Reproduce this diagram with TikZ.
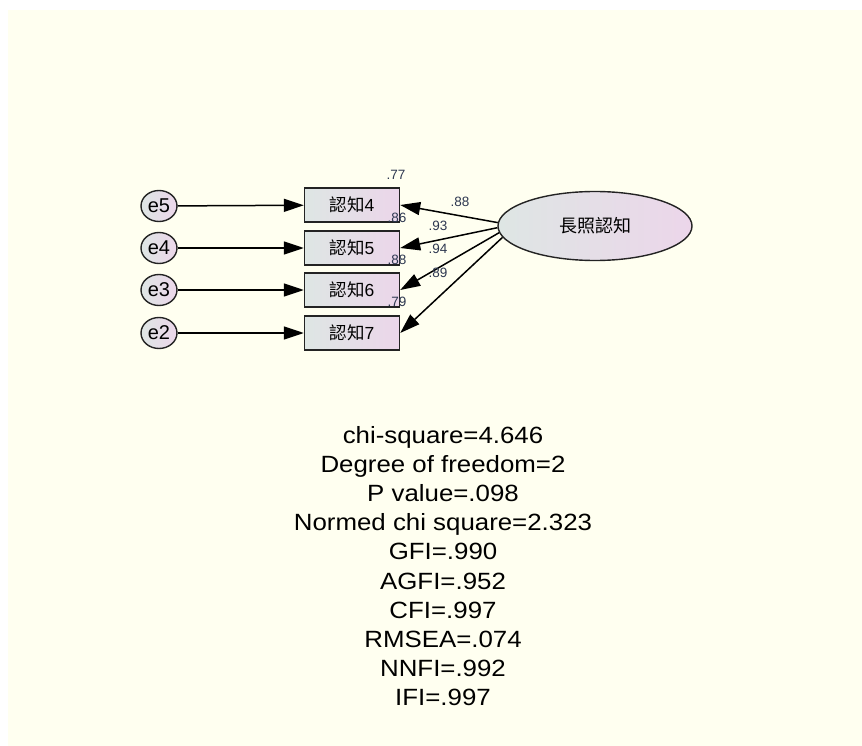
\documentclass[tikz,border=0pt]{standalone}
\usepackage{fontspec}
\setmainfont{Liberation Sans}
\newfontfamily\cjk{Noto Sans CJK TC}
\newfontfamily\statfont[FakeStretch=1.1]{Liberation Sans}
\usepackage{tikz}
\usetikzlibrary{shapes.geometric, arrows.meta}
\definecolor{canvas}{RGB}{255, 255, 240}
\definecolor{tintleft}{RGB}{222, 230, 228}
\definecolor{tintright}{RGB}{236, 214, 234}
\definecolor{edgegray}{RGB}{35, 35, 35}
\definecolor{labelblue}{RGB}{45, 55, 80}

\begin{document}
\begin{tikzpicture}[
    x=1pt, y=-1pt,
    indicator/.style={rectangle, draw=edgegray, line width=1.4pt, left color=tintleft, right color=tintright, minimum width=95pt, minimum height=34pt, inner sep=0pt, font=\fontsize{17.5}{17.5}\selectfont},
    errvar/.style={ellipse, draw=edgegray, line width=1.4pt, left color=tintleft, right color=tintright, minimum width=36pt, minimum height=31pt, inner sep=0pt, font=\fontsize{20}{20}\selectfont},
    latent/.style={ellipse, draw=edgegray, line width=1.4pt, left color=tintleft, right color=tintright, minimum width=194pt, minimum height=69pt, inner sep=0pt, font=\fontsize{18}{18}\selectfont\cjk},
    regress/.style={-{Triangle[length=20pt, width=13pt]}, line width=1.5pt, black},
    coef/.style={font=\fontsize{13.5}{13.5}\selectfont, text=labelblue, inner sep=0pt}
]
% Canvas
\fill[white] (0,0) rectangle (862,746);
\fill[canvas] (8,10) rectangle (862,746);
\useasboundingbox (0,0) rectangle (862,746);

% Error terms
\node[errvar] (e5) at (159,206) {e5};
\node[errvar] (e4) at (159,248) {e4};
\node[errvar] (e3) at (159,290) {e3};
\node[errvar] (e2) at (159,333) {e2};

% Observed items
\node[indicator] (item4) at (352,205) {{\cjk 認知}4};
\node[indicator] (item5) at (352,248) {{\cjk 認知}5};
\node[indicator] (item6) at (352,290) {{\cjk 認知}6};
\node[indicator] (item7) at (352,333) {{\cjk 認知}7};

% Latent factor
\node[latent] (care) at (595,226) {長照認知};

% Arrows
\draw[regress] (e5) -- (item4);
\draw[regress] (e4) -- (item5);
\draw[regress] (e3) -- (item6);
\draw[regress] (e2) -- (item7);
\draw[regress] (care.178) -- (item4.east);
\draw[regress] (care.181) -- (item5.east);
\draw[regress] (care.184) -- (item6.east);
\draw[regress] (care.187) -- (item7.east);

% Loadings
\node[coef] (load4) at (460,202) {.88};
\node[coef] (load5) at (438,226) {.93};
\node[coef] (load6) at (438,249) {.94};
\node[coef] (load7) at (438,273) {.89};

% Squared multiple correlations
\node[coef] (rsq4) at (396,175) {.77};
\node[coef] (rsq5) at (397,218) {.86};
\node[coef] (rsq6) at (397,260) {.88};
\node[coef] (rsq7) at (397,302) {.79};

% Fit indices
\node[font=\fontsize{23.5}{29.2}\selectfont\statfont, align=center, inner sep=0pt] (fit) at (443,566) {chi-square=4.646\\Degree of freedom=2\\P value=.098\\Normed chi square=2.323\\GFI=.990\\AGFI=.952\\CFI=.997\\RMSEA=.074\\NNFI=.992\\IFI=.997};
\end{tikzpicture}
\end{document}
